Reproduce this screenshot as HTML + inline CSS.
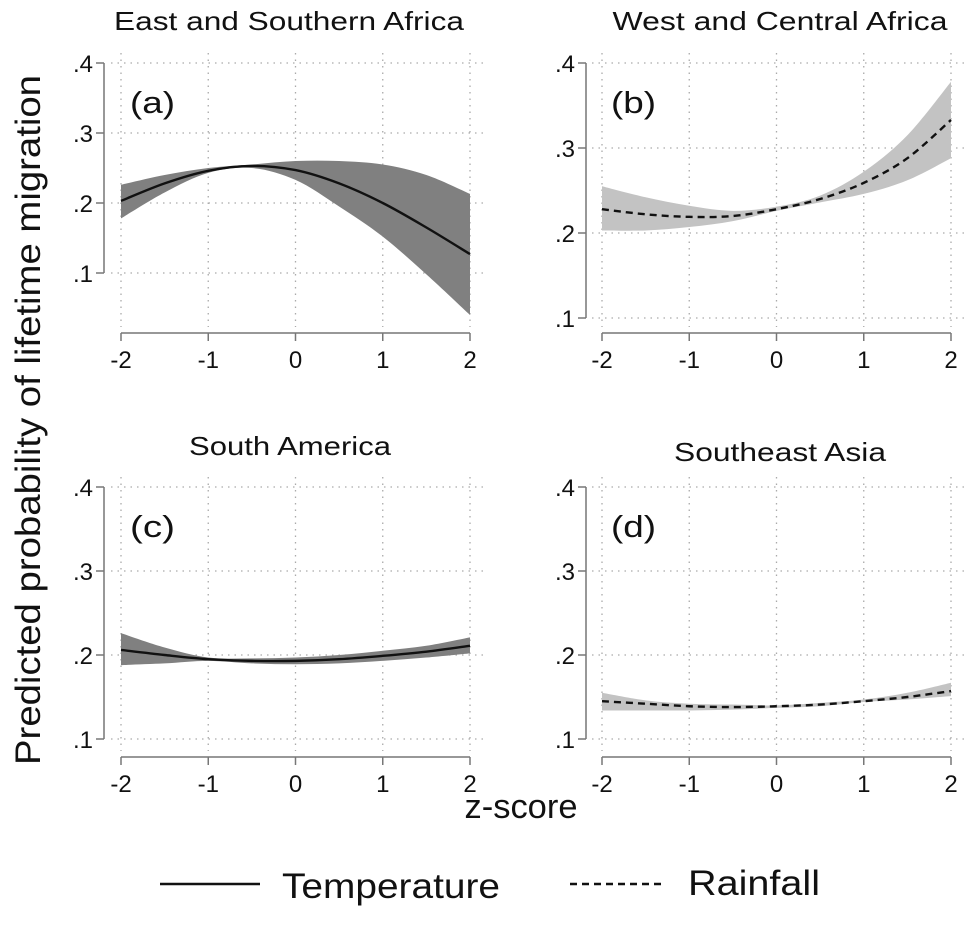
<!DOCTYPE html>
<html><head><meta charset="utf-8"><style>
body{margin:0;background:#fff;}
svg text{font-family:"Liberation Sans",Arial,sans-serif;fill:#111;}
</style></head><body>
<svg id="chart" width="975" height="939" viewBox="0 0 975 939" xmlns="http://www.w3.org/2000/svg">
<text transform="translate(40,420) rotate(-90)" text-anchor="middle" font-size="35" textLength="690" lengthAdjust="spacingAndGlyphs">Predicted probability of lifetime migration</text>
<text x="521" y="818" text-anchor="middle" font-size="34" textLength="113" lengthAdjust="spacingAndGlyphs">z-score</text>
<g>
<line x1="160" y1="884" x2="260" y2="884" stroke="#111" stroke-width="2.5"/>
<text x="282" y="898" font-size="35" textLength="218" lengthAdjust="spacingAndGlyphs">Temperature</text>
<line x1="570" y1="884" x2="666" y2="884" stroke="#111" stroke-width="2.5" stroke-dasharray="7,5"/>
<text x="688" y="895" font-size="35" textLength="132" lengthAdjust="spacingAndGlyphs">Rainfall</text>
</g>
<g id="panels"></g>
</svg>
<script>
const xVals=[-2,-1.5,-1,-0.5,0,0.5,1,1.5,2];
const xTicks=[-2,-1,0,1,2];
const yTicks=[0.1,0.2,0.3,0.4];
const yTickLabels=[".1",".2",".3",".4"];
const aMean=[.203,.228,.246,.253,.247,.228,.200,.165,.127];
const aLo=[.178,.215,.243,.250,.233,.195,.152,.098,.040];
const aHi=[.226,.240,.250,.255,.260,.260,.255,.240,.213];
const bMean=[.228,.222,.219,.220,.228,.240,.259,.288,.333];
const bLo=[.203,.203,.207,.214,.226,.236,.246,.262,.288];
const bHi=[.255,.242,.232,.226,.231,.244,.272,.315,.378];
const cMean=[.206,.200,.195,.193,.193,.195,.199,.204,.211];
const cLo=[.188,.190,.193,.190,.189,.190,.193,.197,.202];
const cHi=[.226,.209,.197,.196,.197,.200,.205,.211,.221];
const dMean=[.145,.142,.139,.138,.139,.141,.145,.150,.157];
const dLo=[.134,.134,.134,.135,.137,.139,.144,.147,.151];
const dHi=[.155,.146,.142,.141,.140,.143,.147,.155,.167];

const NS="http://www.w3.org/2000/svg";
const root=document.getElementById('panels');
function mk(tag,attrs,parent){const e=document.createElementNS(NS,tag);for(const k in attrs)e.setAttribute(k,attrs[k]);parent.appendChild(e);return e;}
function spline(pts){let d=`M${pts[0][0]},${pts[0][1]}`;for(let i=0;i<pts.length-1;i++){const p0=pts[Math.max(0,i-1)],p1=pts[i],p2=pts[i+1],p3=pts[Math.min(pts.length-1,i+2)];
d+=` C${p1[0]+(p2[0]-p0[0])/6},${p1[1]+(p2[1]-p0[1])/6} ${p2[0]-(p3[0]-p1[0])/6},${p2[1]-(p3[1]-p1[1])/6} ${p2[0]},${p2[1]}`;}return d;}
function splineCont(pts){return spline(pts).replace(/^M/,'L');}

const panels=[
 {id:'a',title:'East and Southern Africa',tw:350,tx:289,ty:30,ax:104,x0:121,x1:470,y4:63,y1:273,xaxisY:333,mean:aMean,lo:aLo,hi:aHi,band:'#808080',dash:null},
 {id:'b',title:'West and Central Africa',tw:335,tx:780,ty:30,ax:586,x0:602,x1:951,y4:63,y1:318,xaxisY:333,mean:bMean,lo:bLo,hi:bHi,band:'#c3c3c3',dash:'7,5'},
 {id:'c',title:'South America',tw:202,tx:290,ty:455,ax:104,x0:121,x1:470,y4:487,y1:739,xaxisY:757,mean:cMean,lo:cLo,hi:cHi,band:'#808080',dash:null},
 {id:'d',title:'Southeast Asia',tw:212,tx:780,ty:461,ax:586,x0:602,x1:951,y4:487,y1:739,xaxisY:757,mean:dMean,lo:dLo,hi:dHi,band:'#c3c3c3',dash:'7,5'}
];
panels.forEach(p=>{
 const g=mk('g',{},root);
 
 
 const sx=v=>p.x0+(v+2)/4*(p.x1-p.x0);
 const sy=v=>p.y1-(v-0.1)/0.3*(p.y1-p.y4);
 const t=mk('text',{x:p.tx,y:p.ty,'text-anchor':'middle','font-size':26,textLength:p.tw,lengthAdjust:'spacingAndGlyphs'},g);t.textContent=p.title;
 
 
 const lbl=mk('text',{x:p.x0+9,y:p.y4+50,'font-size':31,textLength:45,lengthAdjust:'spacingAndGlyphs'},g);lbl.textContent='('+p.id+')';
 
 
 yTicks.forEach((v,i)=>{
  const gl=mk('line',{x1:p.x0-10,x2:p.x1+18,y1:sy(v),y2:sy(v),stroke:'#aaa','stroke-width':1.3,'stroke-dasharray':'1.5,5'},g);
  
  
 });
 xTicks.forEach(v=>{
  const gl=mk('line',{x1:sx(v),x2:sx(v),y1:p.y4-10,y2:p.xaxisY-6,stroke:'#aaa','stroke-width':1.3,'stroke-dasharray':'1.5,5'},g);
  
  
 });
 const up=xVals.map((x,i)=>[sx(x),sy(p.hi[i])]);
 const dn=xVals.map((x,i)=>[sx(x),sy(p.lo[i])]).reverse();
 const band=mk('path',{d:spline(up)+' '+splineCont(dn)+' Z',fill:p.band},g);
 
 
 const line=mk('path',{d:spline(xVals.map((x,i)=>[sx(x),sy(p.mean[i])])),fill:'none',stroke:'#111','stroke-width':2.4},g);
 if(p.dash)line.setAttribute('stroke-dasharray',p.dash);
 
 
 const ya=mk('line',{x1:p.ax,x2:p.ax,y1:p.y4,y2:p.y1,stroke:'#777','stroke-width':1.5},g);
 
 
 yTicks.forEach((v,i)=>{
  mk('line',{x1:p.ax-8,x2:p.ax,y1:sy(v),y2:sy(v),stroke:'#777','stroke-width':1.5},g);
  const tl=mk('text',{x:p.ax-11,y:sy(v)+9,'text-anchor':'end','font-size':24},g);tl.textContent=yTickLabels[i];
  
  
 });
 const xa=mk('line',{x1:p.x0,x2:p.x1,y1:p.xaxisY,y2:p.xaxisY,stroke:'#777','stroke-width':1.5},g);
 
 
 xTicks.forEach(v=>{
  mk('line',{x1:sx(v),x2:sx(v),y1:p.xaxisY,y2:p.xaxisY+8,stroke:'#777','stroke-width':1.5},g);
  const tl=mk('text',{x:sx(v),y:p.xaxisY+35,'text-anchor':'middle','font-size':24},g);tl.textContent=String(v);
  
  
 });
});
</script>
</body></html>
